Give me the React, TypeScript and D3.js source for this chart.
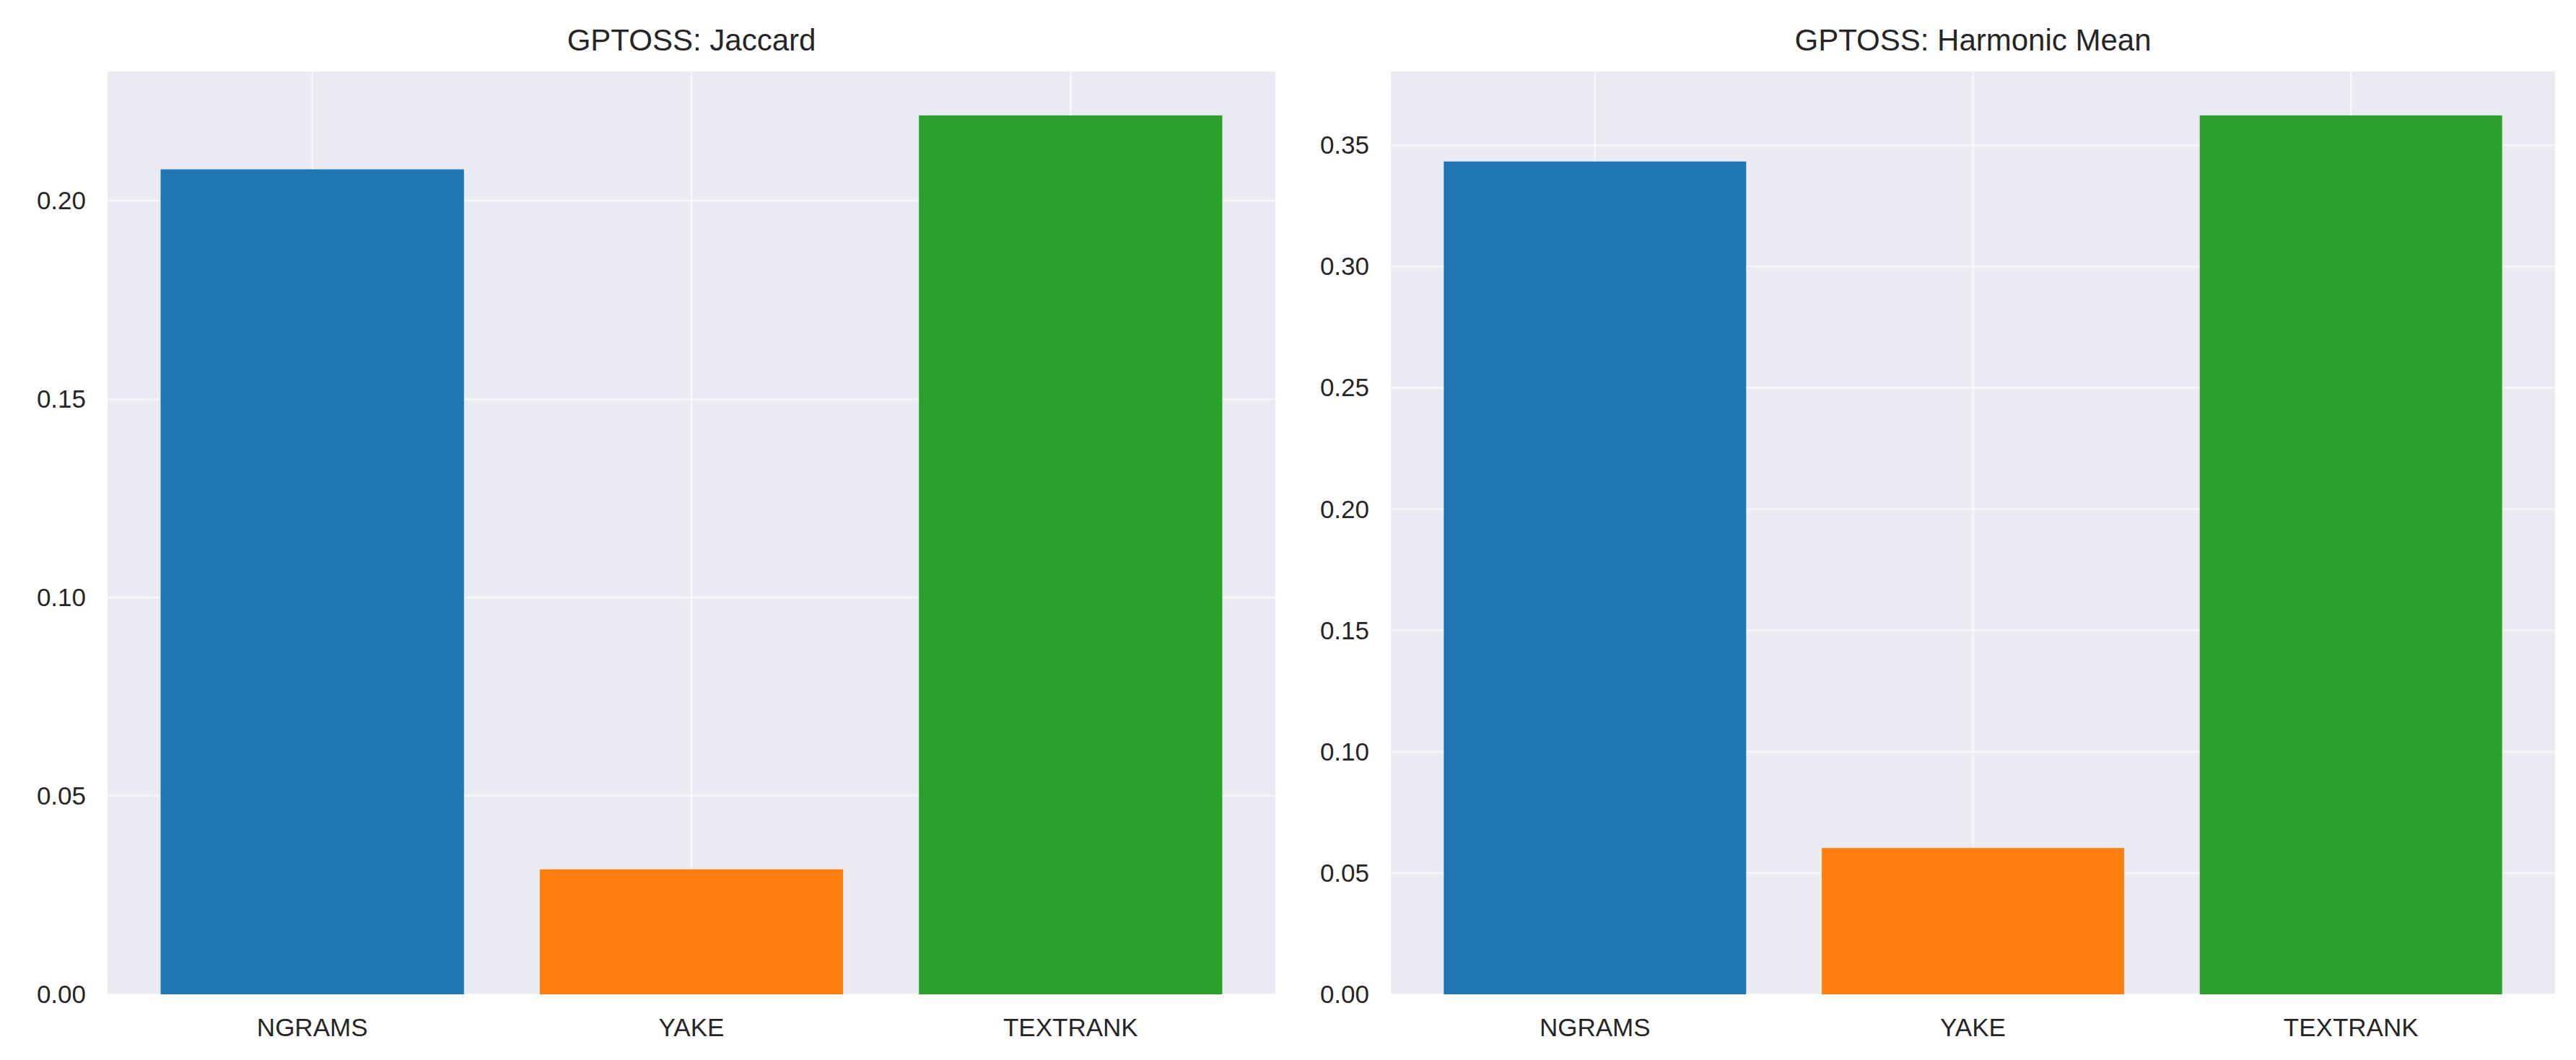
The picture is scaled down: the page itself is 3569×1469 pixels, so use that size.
import React from 'react';
import * as d3 from 'd3';

const categories = ['NGRAMS', 'YAKE', 'TEXTRANK'];
const colors = ['#1f77b4', '#ff7f0e', '#2ca02c'];
const jaccardValues = [0.2079, 0.0315, 0.2215];
const harmonicValues = [0.3432, 0.0603, 0.3622];
const jaccardTicks = [0, 0.05, 0.1, 0.15, 0.2];
const harmonicTicks = [0, 0.05, 0.1, 0.15, 0.2, 0.25, 0.3, 0.35];

const W = 3569;
const H = 1469;
const top = 91;
const bottom = 1370;
const font = 'Liberation Sans, Arial, sans-serif';

interface PanelProps {
  title: string;
  values: number[];
  ticks: number[];
  left: number;
  right: number;
}

const Panel: React.FC<PanelProps> = ({ title, values, ticks, left, right }) => {
  const x = d3.scaleLinear().domain([-0.54, 2.54]).range([left, right]);
  const y = d3.scaleLinear().domain([0, d3.max(values)! * 1.05]).range([bottom, top]);
  const bw = x(0.4) - x(0);
  return (
    <g>
      <rect x={left} y={top} width={right - left} height={bottom - top} fill="#eaeaf2" />
      {ticks.map(t => (
        <line key={t} x1={left} x2={right} y1={y(t)} y2={y(t)} stroke="#fff" strokeOpacity={0.6} strokeWidth={2.5} />
      ))}
      {categories.map((c, i) => (
        <line key={c} x1={x(i)} x2={x(i)} y1={top} y2={bottom} stroke="#fff" strokeOpacity={0.6} strokeWidth={2.5} />
      ))}
      {values.map((v, i) => (
        <rect key={i} x={x(i) - bw} y={y(v)} width={bw * 2} height={y(0) - y(v)} fill={colors[i]} />
      ))}
      {ticks.map(t => (
        <text key={t} x={left - 30} y={y(t)} dy="0.35em" textAnchor="end" fontSize={35} fill="#262626" fontFamily={font}>
          {d3.format('.2f')(t)}
        </text>
      ))}
      {categories.map((c, i) => (
        <text key={c} x={x(i)} y={bottom + 58} textAnchor="middle" fontSize={35} fill="#262626" fontFamily={font}>
          {c}
        </text>
      ))}
      <text x={(left + right) / 2} y={62} textAnchor="middle" fontSize={42} fill="#262626" fontFamily={font}>
        {title}
      </text>
    </g>
  );
};

export default function App() {
  return (
    <svg width={W} height={H} style={{ display: 'block', background: '#fff' }}>
      <Panel title="GPTOSS: Jaccard" values={jaccardValues} ticks={jaccardTicks} left={141} right={1759} />
      <Panel title="GPTOSS: Harmonic Mean" values={harmonicValues} ticks={harmonicTicks} left={1919} right={3532} />
    </svg>
  );
}
